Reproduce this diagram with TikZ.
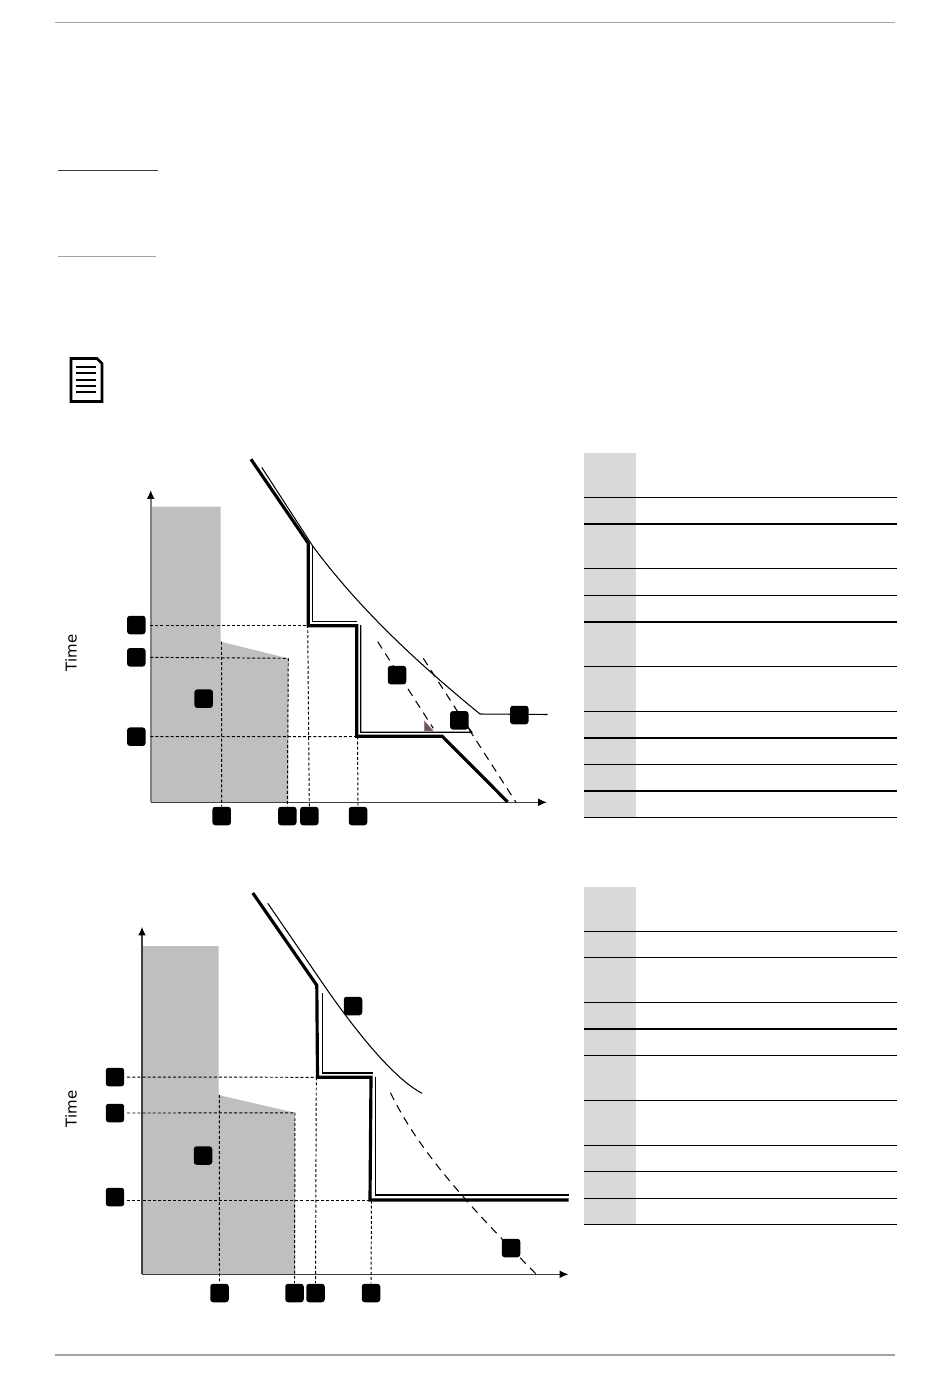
\documentclass[tikz,border=0pt]{standalone}
\usepackage{fontspec}
\setmainfont{DejaVu Sans}
\usepackage{xcolor}
\usetikzlibrary{arrows.meta, positioning}
\definecolor{zonegray}{rgb}{0.75,0.75,0.75}
\definecolor{columngray}{rgb}{0.85,0.85,0.85}
\definecolor{pagerule}{rgb}{0.64,0.64,0.64}
\definecolor{flagred}{rgb}{0.72,0.42,0.45}

\begin{document}
\begin{tikzpicture}[x=0.02cm, y=-0.02cm,
    marker/.style={rectangle, rounded corners=1.6pt, fill=black, minimum size=0.37cm, inner sep=0pt},
    axis/.style={-{Latex[length=5pt,width=4.4pt,black]}, line width=0.75pt, draw=black!75},
    tripline/.style={line width=1.8pt, line join=miter},
    setline/.style={line width=0.75pt},
    limitline/.style={line width=0.6pt},
    fuseline/.style={line width=0.6pt, dash pattern=on 4.6pt off 3.4pt},
    guide/.style={line width=0.55pt, dash pattern=on 1.7pt off 1.2pt},
    tablerule/.style={line width=0.8pt}
]
\useasboundingbox (0,0) rectangle (950,1386);

\draw[line width=0.85pt, draw=pagerule] (55,22.7) -- (895,22.7);
\draw[line width=0.85pt, draw=pagerule] (55,1355) -- (895,1355);
\draw[line width=0.8pt, draw=black!75] (57.5,170.5) -- (157.5,170.5);
\draw[line width=0.8pt, draw=pagerule] (57.5,256.7) -- (155.5,256.7);

\draw[line width=1.5pt, line join=miter] (71,358.5) -- (97,358.5) -- (102,363.5) -- (102,401.5) -- (71,401.5) -- cycle;
\draw[line width=1.05pt] (76,366.7) -- (96,366.7) (76,373) -- (96,373) (76,380) -- (96,380) (76,385.7) -- (96,385.7) (76,391.7) -- (96,391.7);

\fill[columngray] (584.3,453.3) rectangle (636,817.5);
\draw[tablerule] (584.3,497.3) -- (897.3,497.3) (584.3,524) -- (897.3,524) (584.3,568.7) -- (897.3,568.7) (584.3,595.3) -- (897.3,595.3) (584.3,622) -- (897.3,622) (584.3,666.3) -- (897.3,666.3) (584.3,711.3) -- (897.3,711.3) (584.3,738) -- (897.3,738) (584.3,764.3) -- (897.3,764.3) (584.3,791) -- (897.3,791) (584.3,817.3) -- (897.3,817.3);

\fill[columngray] (584.3,886.7) rectangle (636,1224.7);
\draw[tablerule] (584.3,931.3) -- (897.3,931.3) (584.3,957.7) -- (897.3,957.7) (584.3,1002.7) -- (897.3,1002.7) (584.3,1029) -- (897.3,1029) (584.3,1055.7) -- (897.3,1055.7) (584.3,1100.3) -- (897.3,1100.3) (584.3,1145.3) -- (897.3,1145.3) (584.3,1171.7) -- (897.3,1171.7) (584.3,1198.3) -- (897.3,1198.3) (584.3,1224.7) -- (897.3,1224.7);

\fill[zonegray] (152,506.7) -- (220.7,506.7) -- (220.7,641.7) -- (288.3,658.3) -- (288.3,802) -- (152,802) -- cycle;

\coordinate (originA) at (150.7,802.3);
\coordinate (topA) at (150.7,490);
\coordinate (endA) at (547,802.3);

\draw[axis, draw=black!50, line width=1.1pt] (originA) -- (topA);
\draw[axis] (originA) -- (endA);

\draw[tripline] (251,459.3) -- (308.3,543.3) -- (308.3,625.7) -- (356.8,625.7) -- (356.8,736.3) -- (442.3,736.3) -- (507.7,802);
\draw[setline] (312.7,546) -- (312.7,621.7) -- (356.7,621.7);
\draw[setline] (360.7,625) -- (360.7,732.3) -- (471.7,732.3) -- (463,720);
\draw[limitline] (261.7,467.3) -- (312.7,546) .. controls (360,610) and (420,665) .. (480,714) -- (547.5,714.5);
\draw[fuseline] (377.7,641.7) -- (433.3,728.3);
\draw[fuseline] (423.3,658.3) -- (516,802.3);
\fill[black!65, draw=flagred, line width=0.3pt] (424.3,721) -- (424.3,731) -- (433.3,731) -- cycle;

\node[font=\fontsize{8.5pt}{10pt}\selectfont, rotate=90] (timeA) at (71,653) {Time};
\node[marker] (upperA) at (136.3,625) {};
\node[marker] (middleA) at (136.3,657.3) {};
\node[marker] (lowerA) at (136.3,736.7) {};
\node[marker] (zoneA) at (203.7,698.7) {};
\node[marker] (fuseA) at (397,675) {};
\node[marker] (setA) at (459.3,720.3) {};
\node[marker] (limitA) at (519.3,715) {};
\node[marker] (kneeA) at (221.7,816) {};
\node[marker] (edgeA) at (287.3,816) {};
\node[marker] (pickupA) at (309.3,816) {};
\node[marker] (stepA) at (358,816) {};

\draw[guide, shorten <=2.5pt] (upperA.east) -- (308,625);
\draw[guide, shorten <=2.5pt] (middleA.east) -- (288.3,658.3);
\draw[guide, shorten <=2.5pt] (lowerA.east) -- (356.8,736.5);
\draw[guide] (221.5,641.7) -- (kneeA.north);
\draw[guide] (288.3,658.3) -- (edgeA.north);
\draw[guide] (307.7,625) -- (pickupA.north);
\draw[guide] (357.5,736.5) -- (stepA.north);

\fill[zonegray] (142,946) -- (218.5,946) -- (218.5,1095) -- (295,1112.7) -- (295,1274) -- (142,1274) -- cycle;

\coordinate (originB) at (142,1274.3);
\coordinate (topB) at (142,926.7);
\coordinate (endB) at (568.5,1274.3);
\coordinate (cornerB) at (370,1200.5);

\draw[axis] (originB) -- (topB);
\draw[axis] (originB) -- (endB);

\draw[tripline] (252.8,893) -- (316.8,985.3) -- (317.5,1077.3) -- (371,1077.3) -- (370,1200) -- (568.5,1200);
\draw[setline] (322.8,993.3) -- (322.8,1073) -- (372.7,1073);
\draw[setline] (375.4,1076.7) -- (375.4,1195) -- (568.5,1195);
\draw[limitline] (267.8,903.3) -- (325,986.7) .. controls (355,1030) and (393,1078) .. (422,1093.3);
\draw[fuseline] (390.5,1092.7) .. controls (418,1150) and (468,1205) .. (536,1274);

\node[font=\fontsize{8.5pt}{10pt}\selectfont, rotate=90] (timeB) at (71,1109) {Time};
\node[marker] (upperB) at (115,1077) {};
\node[marker] (middleB) at (115,1113) {};
\node[marker] (lowerB) at (115,1197) {};
\node[marker] (zoneB) at (203,1155.5) {};
\node[marker] (limitB) at (353,1006) {};
\node[marker] (fuseB) at (511,1248) {};
\node[marker] (kneeB) at (219.5,1293) {};
\node[marker] (edgeB) at (294.5,1293) {};
\node[marker] (pickupB) at (315.5,1293) {};
\node[marker] (stepB) at (371,1293) {};

\draw[guide, shorten <=1.5pt] (upperB.east) -- (317.5,1077.3);
\draw[guide, shorten <=1.5pt] (middleB.east) -- (295,1112.9);
\draw[guide, shorten <=1.5pt] (lowerB.east |- cornerB) -- (cornerB);
\draw[guide] (219.3,1095) -- (kneeB.north);
\draw[guide] (295,1112.7) -- (edgeB.north);
\draw[guide] (316.3,1077.3) -- (pickupB.north);
\draw[guide] (371.5,1200.5) -- (stepB.north);
\end{tikzpicture}
\end{document}
